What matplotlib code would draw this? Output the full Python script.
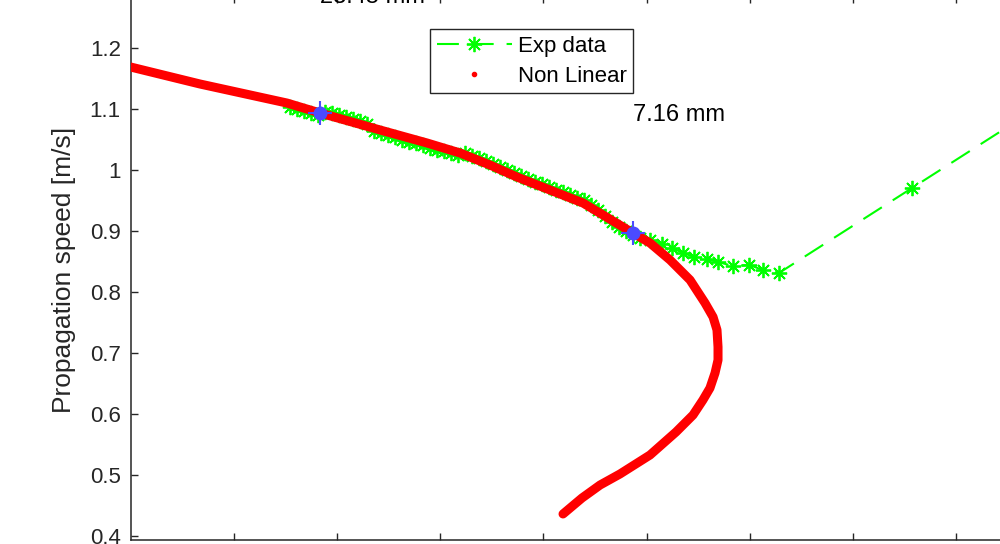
import matplotlib
matplotlib.use("Agg")
import matplotlib.pyplot as plt

plt.rcParams['font.family'] = ['Liberation Sans', 'DejaVu Sans']

# Experimental data (x in axis tick units, y = propagation speed m/s)
exp_x = [1.546, 1.613, 1.681, 1.749, 1.817, 1.885, 1.952, 2.020, 2.088, 2.156,
         2.224, 2.292, 2.360, 2.427, 2.495, 2.563, 2.631, 2.699, 2.767, 2.835,
         2.902, 2.970, 3.038, 3.106, 3.174, 3.242, 3.309, 3.377, 3.445, 3.513,
         3.581, 3.649, 3.717, 3.784, 3.852, 3.920, 3.988, 4.056, 4.124, 4.191,
         4.259, 4.327, 4.395, 4.463, 4.531, 4.598, 4.666, 4.734, 4.802, 4.870,
         4.937, 5.034, 5.150, 5.247, 5.354, 5.460, 5.586, 5.693, 5.838, 5.994,
         6.129, 6.284, 7.573, 8.862]
exp_y = [1.1028, 1.0995, 1.0962, 1.0930, 1.0897, 1.0946, 1.0930, 1.0897, 1.0864, 1.0831,
         1.0798, 1.0749, 1.0634, 1.0602, 1.0569, 1.0536, 1.0487, 1.0454, 1.0438, 1.0405,
         1.0356, 1.0323, 1.0307, 1.0274, 1.0241, 1.0274, 1.0225, 1.0192, 1.0143, 1.0094,
         1.0044, 0.9995, 0.9946, 0.9897, 0.9848, 0.9798, 0.9766, 0.9716, 0.9667, 0.9635,
         0.9585, 0.9536, 0.9503, 0.9421, 0.9339, 0.9241, 0.9143, 0.9061, 0.8995, 0.8930,
         0.8880, 0.8848, 0.8782, 0.8716, 0.8635, 0.8569, 0.8536, 0.8487, 0.8421, 0.8438,
         0.8356, 0.8307, 0.9700, 1.1094]

# Non linear model curve
nl_x = [0.000, 0.673, 1.516, 1.836, 2.418, 2.873, 3.193, 3.483, 3.745, 4.065,
        4.385, 4.869, 5.034, 5.228, 5.422, 5.567, 5.645, 5.683, 5.693, 5.693,
        5.664, 5.615, 5.547, 5.451, 5.286, 5.034, 4.743, 4.550, 4.375, 4.191]
nl_y = [1.1684, 1.1405, 1.1093, 1.0930, 1.0651, 1.0438, 1.0274, 1.0077, 0.9880, 0.9667,
        0.9454, 0.8962, 0.8798, 0.8520, 0.8192, 0.7815, 0.7585, 0.7373, 0.7094, 0.6880,
        0.6667, 0.6421, 0.6225, 0.5979, 0.5700, 0.5323, 0.5012, 0.4831, 0.4618, 0.4356]

# Highlighted points and their annotations
pt_x = [1.836, 4.869]
pt_y = [1.0930, 0.8962]
pt_text = ['23.45 mm', '7.16 mm']
pt_text_y = [1.283, 1.0897]

yticks = [0.4, 0.5, 0.6, 0.7, 0.8, 0.9, 1.0, 1.1, 1.2]
ytick_labels = ['0.4', '0.5', '0.6', '0.7', '0.8', '0.9', '1', '1.1', '1.2']
xticks = [1, 2, 3, 4, 5, 6, 7, 8]

W, H = 1000, 544
fig = plt.figure(figsize=(W / 100, H / 100), dpi=100)
ax = fig.add_axes([130.5 / W, (H - 540) / H, (1010 - 130.5) / W, 544 / H])

green = '#00FF00'
ax.plot(exp_x, exp_y, color=green, ls=(0, (10.5, 6.2)), lw=1.5,
        marker=(8, 2, 0), markersize=11, markeredgewidth=1.3, label='Exp data', zorder=3)
ax.plot(nl_x, nl_y, color='#FF0000', lw=6.5, solid_capstyle='round',
        solid_joinstyle='round', label='_nolegend_', zorder=4)
ax.plot(nl_x, nl_y, color='#FF0000', ls='none', marker='.', markersize=6,
        label='Non Linear', zorder=4)
blue = '#4B4BFF'
ax.plot(pt_x, pt_y, ls='none', marker='o', markersize=9, color=blue, zorder=5)
ax.plot(pt_x, pt_y, ls='none', marker='+', markersize=17, markeredgewidth=1.5,
        color=blue, zorder=5)
for tx, ty, s in zip(pt_x, pt_text_y, pt_text):
    ax.text(tx, ty, s, fontsize=17, color='black', ha='left', va='center', clip_on=False)

ax.set_xlim(0, (1010 - 130.5) / 103.2)
ax.set_ylim(1.2782 - 540 / 610, 1.2782 + 4 / 610)
ax.set_xticks(xticks)
ax.set_yticks(yticks)
ax.set_yticklabels(ytick_labels)
spine_c = '#262626'
for sp in ax.spines.values():
    sp.set_color(spine_c)
    sp.set_linewidth(1.1)
ax.tick_params(direction='in', length=5, width=1, colors=spine_c, labelsize=16,
               top=True, right=True, labelbottom=False, pad=7)
ax.set_ylabel('Propagation speed [m/s]', fontsize=19, color=spine_c)
ax.yaxis.set_label_coords((64 - 130.5) / (1010 - 130.5), (540 - 270) / 544)
ax.yaxis.label.set_va('center')

leg = ax.legend(loc='upper left', bbox_to_anchor=(430 / W, 1 - 29 / H),
                bbox_transform=fig.transFigure, borderaxespad=0, fontsize=16,
                handlelength=3.4, handletextpad=0.25, labelspacing=0.4,
                borderpad=0.3, fancybox=False, framealpha=1, numpoints=1)
leg.get_frame().set_edgecolor(spine_c)
leg.get_frame().set_linewidth(1.0)

fig.savefig('out.png', dpi=100)
